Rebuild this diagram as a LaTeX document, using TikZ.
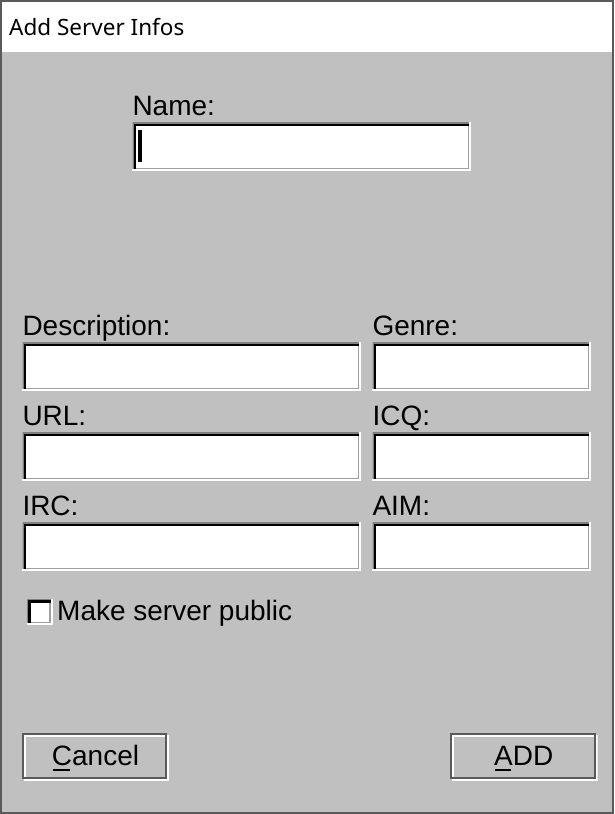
\documentclass[tikz,border=0pt]{standalone}
\usepackage{fontspec}
\setmainfont{Liberation Sans}
\newfontfamily\titlefont{Noto Sans}
\usetikzlibrary{positioning}

\definecolor{winface}{RGB}{192,192,192}
\definecolor{winedge}{RGB}{90,90,90}
\definecolor{edgegray}{RGB}{128,128,128}
\definecolor{edgelight}{RGB}{160,160,160}
% underlined access key letter
\newcommand\acckey[1]{\setbox0\hbox{#1}\rlap{\kern1pt\rule[-5.5pt]{\dimexpr\wd0-3pt\relax}{1.6pt}}#1}

\begin{document}
\begin{tikzpicture}[x=1pt, y=-1pt,
  field/.style={anchor=north west, inner sep=0pt, outer sep=0pt, fill=white,
    minimum width=339pt, minimum height=49pt,
    path picture={
      \fill[edgegray] (path picture bounding box.north west) rectangle ([shift={(-2pt,2pt)}]path picture bounding box.south east);
      \fill[black] ([shift={(1.5pt,-1.5pt)}]path picture bounding box.north west) rectangle ([shift={(-2pt,2pt)}]path picture bounding box.south east);
      \fill[edgelight] ([shift={(4pt,-4pt)}]path picture bounding box.north west) rectangle ([shift={(-2pt,2pt)}]path picture bounding box.south east);
      \fill[white] ([shift={(4pt,-4pt)}]path picture bounding box.north west) rectangle ([shift={(-3.5pt,3.5pt)}]path picture bounding box.south east);
    }},
  lbl/.style={inner sep=0pt, text depth=0pt, font=\fontsize{28}{32}\selectfont},
  btn/.style={anchor=north west, inner sep=0pt, outer sep=0pt, fill=winface,
    minimum width=147pt, minimum height=48pt, text height=20.5pt, text depth=4.5pt,
    font=\fontsize{28}{32}\selectfont,
    path picture={
      \draw[white, line width=1.6pt] ([shift={(2.8pt,-2.8pt)}]path picture bounding box.north west) rectangle ([shift={(-0.8pt,0.8pt)}]path picture bounding box.south east);
      \draw[winedge, line width=1.6pt] ([shift={(0.8pt,-0.8pt)}]path picture bounding box.north west) rectangle ([shift={(-2.8pt,2.8pt)}]path picture bounding box.south east);
    }}]
  \useasboundingbox (0,0) rectangle (614,814);

  % window frame and title bar
  \fill[winedge] (0,0) rectangle (614,814);
  \fill[winface] (1.7,52) rectangle (612,812);
  \fill[white] (1.7,1.7) rectangle (612,52);
  \node[anchor=base west, inner sep=0pt, font=\titlefont\fontsize{22.5}{27}\selectfont] (title) at (9,35.7) {Add Server Infos};

  % input fields
  \node[field] (name) at (132.3,122.3) {};
  \node[field] (desc) at (22.3,342.3) {};
  \node[field, below=41pt of desc] (url) {};
  \node[field, below=41pt of url] (irc) {};
  \node[field, minimum width=219pt, right=11pt of desc] (genre) {};
  \node[field, minimum width=219pt, below=41pt of genre] (icq) {};
  \node[field, minimum width=219pt, below=41pt of icq] (aim) {};
  \node[field, minimum width=26pt, minimum height=26.5pt] (pub) at (26.5,598.5) {};
  \fill (name.north west) ++(6,7.7) rectangle ++(3.4,31.7);

  % labels
  \node[lbl, above right=6.5pt and 0pt of name.north west] (namelbl) {Name:};
  \node[lbl, above right=6.5pt and 0pt of desc.north west] (desclbl) {Description:};
  \node[lbl, above right=6.5pt and 0pt of genre.north west] (genrelbl) {Genre:};
  \node[lbl, above right=6.5pt and 0pt of url.north west] (urllbl) {URL:};
  \node[lbl, above right=6.5pt and 0pt of icq.north west] (icqlbl) {ICQ:};
  \node[lbl, above right=6.5pt and 0pt of irc.north west] (irclbl) {IRC:};
  \node[lbl, above right=6.5pt and 0pt of aim.north west] (aimlbl) {AIM:};
  \node[lbl, above right=4.5pt and 4.5pt of pub.south east] (publbl) {Make server public};

  % buttons
  \node[btn] (cancel) at (22,733) {\acckey{C}ancel};
  \node[btn, minimum width=147.5pt] (add) at (450,733) {\acckey{A}DD};
\end{tikzpicture}
\end{document}
